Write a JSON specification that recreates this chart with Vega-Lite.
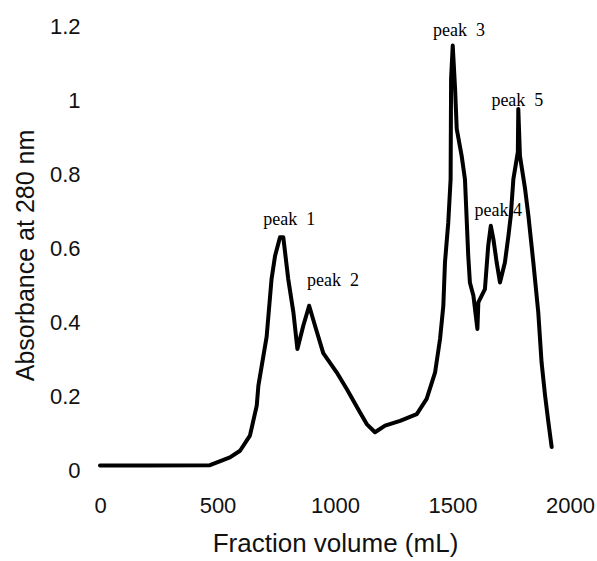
{
  "$schema": "https://vega.github.io/schema/vega-lite/v6.json",
  "width": 470,
  "height": 444,
  "autosize": {"type": "none"},
  "padding": {"left": 100, "top": 26, "right": 27, "bottom": 91},
  "background": "white",
  "config": {
    "view": {"stroke": null},
    "axis": {
      "grid": false, "domain": false, "ticks": false, "labelFlush": false,
      "labelFont": "Liberation Sans", "labelFontSize": 22, "labelColor": "#111",
      "titleFont": "Liberation Sans", "titleFontWeight": "normal", "titleColor": "#111"
    }
  },
  "datasets": {
    "curve": [
      {"v": 0, "a": 0.012}, {"v": 200, "a": 0.012}, {"v": 468, "a": 0.013}, {"v": 553, "a": 0.034},
      {"v": 596, "a": 0.052}, {"v": 638, "a": 0.093}, {"v": 667, "a": 0.174}, {"v": 674, "a": 0.228},
      {"v": 709, "a": 0.36}, {"v": 730, "a": 0.516}, {"v": 745, "a": 0.579}, {"v": 766, "a": 0.629},
      {"v": 780, "a": 0.629}, {"v": 801, "a": 0.516}, {"v": 823, "a": 0.426}, {"v": 840, "a": 0.327},
      {"v": 865, "a": 0.39}, {"v": 890, "a": 0.444}, {"v": 915, "a": 0.39}, {"v": 950, "a": 0.316},
      {"v": 1007, "a": 0.264}, {"v": 1050, "a": 0.219}, {"v": 1106, "a": 0.156}, {"v": 1135, "a": 0.124},
      {"v": 1170, "a": 0.102}, {"v": 1213, "a": 0.12}, {"v": 1277, "a": 0.133}, {"v": 1348, "a": 0.151},
      {"v": 1390, "a": 0.192}, {"v": 1426, "a": 0.264}, {"v": 1447, "a": 0.354}, {"v": 1461, "a": 0.444},
      {"v": 1468, "a": 0.561}, {"v": 1482, "a": 0.669}, {"v": 1492, "a": 0.786}, {"v": 1494, "a": 1.057},
      {"v": 1501, "a": 1.147}, {"v": 1511, "a": 1.03}, {"v": 1518, "a": 0.922}, {"v": 1539, "a": 0.849},
      {"v": 1553, "a": 0.786}, {"v": 1567, "a": 0.579}, {"v": 1574, "a": 0.507}, {"v": 1589, "a": 0.471},
      {"v": 1606, "a": 0.381}, {"v": 1610, "a": 0.453}, {"v": 1638, "a": 0.489}, {"v": 1652, "a": 0.606},
      {"v": 1663, "a": 0.66}, {"v": 1674, "a": 0.624}, {"v": 1688, "a": 0.561}, {"v": 1702, "a": 0.507},
      {"v": 1723, "a": 0.561}, {"v": 1738, "a": 0.633}, {"v": 1748, "a": 0.687}, {"v": 1759, "a": 0.786},
      {"v": 1778, "a": 0.859}, {"v": 1780, "a": 0.976}, {"v": 1787, "a": 0.849}, {"v": 1809, "a": 0.759},
      {"v": 1823, "a": 0.687}, {"v": 1844, "a": 0.561}, {"v": 1865, "a": 0.426}, {"v": 1879, "a": 0.291},
      {"v": 1894, "a": 0.201}, {"v": 1908, "a": 0.129}, {"v": 1922, "a": 0.062}
    ],
    "labels": [
      {"v": 805, "a": 0.675, "t": "peak\u00a0\u00a01"},
      {"v": 991, "a": 0.51, "t": "peak\u00a0\u00a02"},
      {"v": 1528, "a": 1.187, "t": "peak\u00a0\u00a03"},
      {"v": 1695, "a": 0.699, "t": "peak 4"},
      {"v": 1776, "a": 0.998, "t": "peak\u00a0\u00a05"}
    ]
  },
  "layer": [
    {
      "data": {"name": "curve"},
      "mark": {"type": "line", "color": "black", "strokeWidth": 4, "strokeJoin": "round", "strokeCap": "round"},
      "encoding": {
        "x": {"field": "v", "type": "quantitative", "scale": {"domain": [0, 2000], "nice": false},
              "axis": {"values": [0, 500, 1000, 1500, 2000], "format": "d", "labelPadding": 25, "title": "Fraction volume (mL)", "titleFontSize": 26, "titlePadding": 14}},
        "y": {"field": "a", "type": "quantitative", "scale": {"domain": [0, 1.2], "nice": false},
              "axis": {"values": [0, 0.2, 0.4, 0.6, 0.8, 1, 1.2], "format": "~g", "labelPadding": 20, "title": "Absorbance at 280 nm", "titleFontSize": 25, "titlePadding": 11, "titleY": 229}}
      }
    },
    {
      "data": {"name": "labels"},
      "mark": {"type": "text", "font": "Liberation Serif", "fontSize": 18, "color": "black", "baseline": "middle", "align": "center"},
      "encoding": {
        "x": {"field": "v", "type": "quantitative"},
        "y": {"field": "a", "type": "quantitative"},
        "text": {"field": "t"}
      }
    }
  ]
}
